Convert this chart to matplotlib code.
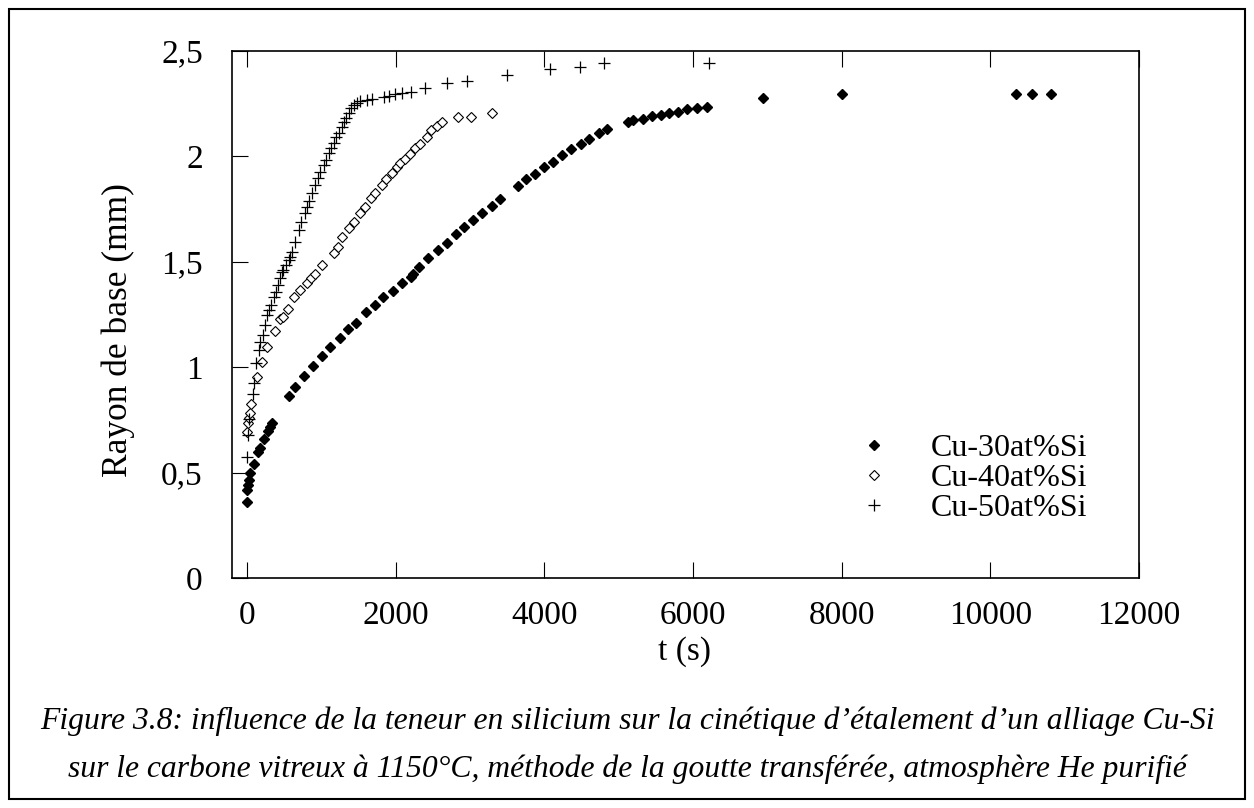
import matplotlib
matplotlib.use("Agg")
import matplotlib.pyplot as plt
from matplotlib.patches import Rectangle

# Cu-30at%Si (losanges pleins)
t_30 = [0, 0, 13, 22, 44, 90, 143, 170, 224, 280, 310, 336,
        560, 641, 762, 888, 1009, 1120, 1246, 1367, 1470, 1600, 1726, 1829,
        1963, 2085, 2206, 2240, 2317, 2443, 2575, 2690, 2810, 2925, 3048, 3161,
        3296, 3407, 3653, 3760, 3878, 3995, 4116, 4240, 4360, 4490, 4600, 4730,
        4842, 5133, 5200, 5326, 5447, 5568, 5680, 5797, 5918, 6053, 6195, 6940,
        8011, 10340, 10563, 10815]
r_30 = [0.363, 0.418, 0.44, 0.466, 0.498, 0.54, 0.60, 0.616, 0.659, 0.697, 0.716, 0.735,
        0.866, 0.905, 0.959, 1.006, 1.054, 1.098, 1.137, 1.18, 1.211, 1.262, 1.293, 1.335,
        1.362, 1.398, 1.426, 1.44, 1.474, 1.52, 1.556, 1.59, 1.632, 1.663, 1.697, 1.73,
        1.762, 1.798, 1.858, 1.89, 1.918, 1.951, 1.972, 2.004, 2.032, 2.057, 2.083, 2.112,
        2.128, 2.164, 2.173, 2.177, 2.191, 2.196, 2.204, 2.211, 2.224, 2.227, 2.235, 2.278,
        2.294, 2.294, 2.294, 2.296]

# Cu-40at%Si (losanges vides)
t_40 = [0, 13, 35, 48, 62, 139, 206, 273, 376, 452, 484, 556, 632, 721, 811, 869,
        915, 1013, 1170, 1228, 1282, 1372, 1439, 1528, 1587, 1663, 1730, 1811, 1874,
        1954, 2022, 2066, 2133, 2200, 2268, 2335, 2421, 2475, 2564, 2631, 2838, 3013,
        3295]
r_40 = [0.695, 0.735, 0.758, 0.785, 0.826, 0.953, 1.027, 1.095, 1.172, 1.227, 1.24, 1.276,
        1.332, 1.366, 1.401, 1.422, 1.441, 1.483, 1.54, 1.572, 1.619, 1.659, 1.69, 1.73,
        1.758, 1.80, 1.827, 1.864, 1.891, 1.919, 1.948, 1.967, 1.986, 2.011, 2.040, 2.060,
        2.09, 2.125, 2.142, 2.164, 2.188, 2.188, 2.205]

# Cu-50at%Si (croix)
t_50 = [0, 17, 27, 81, 94, 125, 161, 183, 215, 242, 273, 304, 331, 363, 394, 421,
        452, 475, 490, 530, 560, 586, 609, 646, 699, 734, 780, 811, 842, 878, 923,
        959, 990, 1036, 1067, 1103, 1138, 1170, 1201, 1237, 1273, 1304, 1335, 1372,
        1407, 1439, 1484, 1528, 1618, 1685, 1843, 1910, 1999, 2089, 2214, 2394, 2690,
        2959, 3497, 4071, 4483, 4800, 6218]
r_50 = [0.576, 0.679, 0.754, 0.873, 0.924, 1.019, 1.082, 1.121, 1.153, 1.20, 1.248, 1.272,
        1.295, 1.335, 1.358, 1.39, 1.422, 1.45, 1.46, 1.485, 1.509, 1.524, 1.548, 1.595,
        1.651, 1.69, 1.73, 1.761, 1.79, 1.825, 1.864, 1.896, 1.927, 1.959, 1.982, 2.014,
        2.038, 2.062, 2.09, 2.109, 2.14, 2.164, 2.18, 2.204, 2.227, 2.243, 2.254, 2.264,
        2.267, 2.27, 2.282, 2.286, 2.295, 2.299, 2.306, 2.322, 2.346, 2.358, 2.385,
        2.412, 2.425, 2.441, 2.441]

x_ticks = [0, 2000, 4000, 6000, 8000, 10000, 12000]
x_tick_labels = ["0", "2000", "4000", "6000", "8000", "10000", "12000"]
y_ticks = [0, 0.5, 1, 1.5, 2, 2.5]
y_tick_labels = ["0", "0,5", "1", "1,5", "2", "2,5"]

legende = ["Cu-30at%Si", "Cu-40at%Si", "Cu-50at%Si"]
legende_l1 = ("Figure 3.8: influence de la teneur en silicium sur la cinétique "
              "d\u2019étalement d\u2019un alliage Cu-Si")
legende_l2 = ("sur le carbone vitreux à 1150°C, méthode de la goutte transférée, "
              "atmosphère He purifié")

plt.rcParams["font.family"] = ["Liberation Serif", "DejaVu Serif"]
fs = 24

W, H = 1254, 808
fig = plt.figure(figsize=(W / 100, H / 100), dpi=100)
ax = fig.add_axes([232 / W, 1 - 578.3 / H, (1139 - 232) / W, (578.3 - 50.7) / H])

ax.plot(t_30, r_30, linestyle="none", marker="D", ms=5.5, color="black", label=legende[0])
ax.plot(t_40, r_40, linestyle="none", marker="D", ms=4.8, mfc="white", mec="black", mew=0.8,
        label=legende[1])
ax.plot(t_50, r_50, linestyle="none", marker="+", ms=8.5, mew=0.9, color="black", label=legende[2])

ax.set_xlim(-200, 12000)
ax.set_ylim(0, 2.5)
ax.set_xticks(x_ticks)
ax.set_xticklabels(x_tick_labels)
ax.set_yticks(y_ticks)
ax.set_yticklabels(y_tick_labels)
ax.tick_params(axis="x", direction="in", length=11.5, width=0.8, top=True, labelsize=fs, pad=16)
ax.tick_params(axis="y", direction="in", length=11.5, width=0.8, right=False, labelsize=fs, pad=21)
for sp in ax.spines.values():
    sp.set_linewidth(1.2)

fig.text(685 / W, 1 - 652 / H, "t (s)", ha="center", va="center", fontsize=fs)
fig.text(118 / W, 1 - 330 / H, "Rayon de base (mm)", ha="center", va="center",
         rotation=90, fontsize=25.5)

ax.legend(loc="center left", bbox_to_anchor=(858.5 / W, 1 - 478 / H),
          bbox_transform=fig.transFigure, frameon=False, fontsize=23,
          handlelength=1.0, handletextpad=1.25, labelspacing=0.02,
          borderpad=0, borderaxespad=0)

fig.text(627 / W, 1 - 721 / H, legende_l1, ha="center", va="center",
         fontsize=22.8, style="italic")
fig.text(627 / W, 1 - 769 / H, legende_l2, ha="center", va="center",
         fontsize=22.8, style="italic")

# cadre autour de la figure
fig.patches.append(Rectangle((9 / W, 9 / H), (W - 18) / W, (H - 18) / H,
                             transform=fig.transFigure, fill=False,
                             edgecolor="black", linewidth=1.5))

fig.savefig("out.png", dpi=100)
